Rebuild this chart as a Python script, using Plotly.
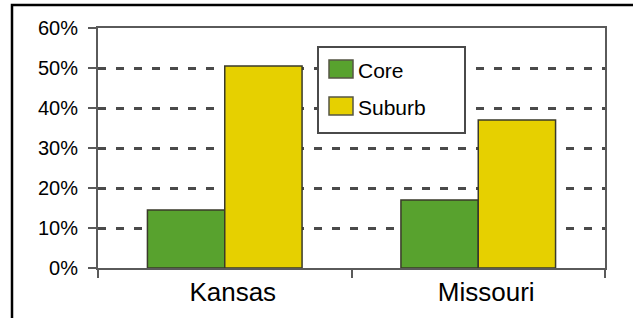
import plotly.graph_objects as go

# ---- data ----
categories = ["Kansas", "Missouri"]
series_names = ["Core", "Suburb"]
core_values = [14.5, 17.0]
suburb_values = [50.5, 37.0]
y_tick_values = [0, 10, 20, 30, 40, 50, 60]
y_tick_labels = ["0%", "10%", "20%", "30%", "40%", "50%", "60%"]

W, H = 633, 318
L, R, T, B = 98, 605, 28, 268  # plot area in pixels

def px(x):
    return (x - L) / (R - L)

def py(y):
    return (B - y) / (B - T)

FONT = "Liberation Sans, Arial, sans-serif"
GREEN = "#58a22e"
YELLOW = "#e6d000"
colors = [GREEN, YELLOW]

fig = go.Figure()
fig.add_trace(go.Bar(x=categories, y=core_values, name=series_names[0],
                     marker=dict(color=GREEN, line=dict(color="#3a3a2a", width=1.5))))
fig.add_trace(go.Bar(x=categories, y=suburb_values, name=series_names[1],
                     marker=dict(color=YELLOW, line=dict(color="#3a3a2a", width=1.5))))

fig.update_layout(
    width=W, height=H,
    margin=dict(l=L, r=W - R, t=T, b=H - B, pad=0),
    paper_bgcolor="white", plot_bgcolor="white",
    barmode="group", bargap=0.39, bargroupgap=0,
    showlegend=False,
    font=dict(family=FONT, color="black"),
)

fig.update_yaxes(
    range=[0, 60], tickvals=y_tick_values, ticktext=y_tick_labels,
    showgrid=True, gridcolor="#4a4a4a", gridwidth=2.5, griddash="8px,10px",
    zeroline=False,
    showline=True, linecolor="#5a5a5a", linewidth=2, mirror=True,
    ticks="outside", ticklen=8, tickwidth=2, tickcolor="#5a5a5a",
    tickfont=dict(size=20, family=FONT, color="black"),
    ticklabelstandoff=6,
)
fig.update_xaxes(
    showgrid=False, zeroline=False,
    showline=True, linecolor="#5a5a5a", linewidth=2, mirror=True,
    ticks="outside", ticklen=8, tickwidth=2, tickcolor="#5a5a5a",
    tickson="boundaries",
    tickfont=dict(size=26, family=FONT, color="black"),
    ticklabelshift=8,
)

shapes = []
# outer frame
shapes.append(dict(type="rect", xref="paper", yref="paper",
                   x0=px(12), x1=px(660), y0=py(5), y1=py(340),
                   line=dict(color="black", width=2.5), fillcolor="rgba(0,0,0,0)",
                   layer="above"))
# legend box
shapes.append(dict(type="rect", xref="paper", yref="paper",
                   x0=px(318), x1=px(465), y0=py(133), y1=py(47),
                   line=dict(color="#4a4a4a", width=2), fillcolor="white",
                   layer="above"))
annotations = []
swatch_rows = [69, 106]
for name, col, yc in zip(series_names, colors, swatch_rows):
    shapes.append(dict(type="rect", xref="paper", yref="paper",
                       x0=px(329), x1=px(353), y0=py(yc + 9), y1=py(yc - 9),
                       line=dict(color="#555544", width=1.5), fillcolor=col,
                       layer="above"))
    annotations.append(dict(text=name, xref="paper", yref="paper",
                            x=px(356), y=py(yc + 1), xanchor="left", yanchor="middle",
                            showarrow=False,
                            font=dict(size=21, family=FONT, color="black")))

fig.update_layout(shapes=shapes, annotations=annotations)

fig.write_html("out.html",
               config={"displayModeBar": False},
               post_script="document.body.style.margin='0px';document.body.style.overflow='hidden';")
